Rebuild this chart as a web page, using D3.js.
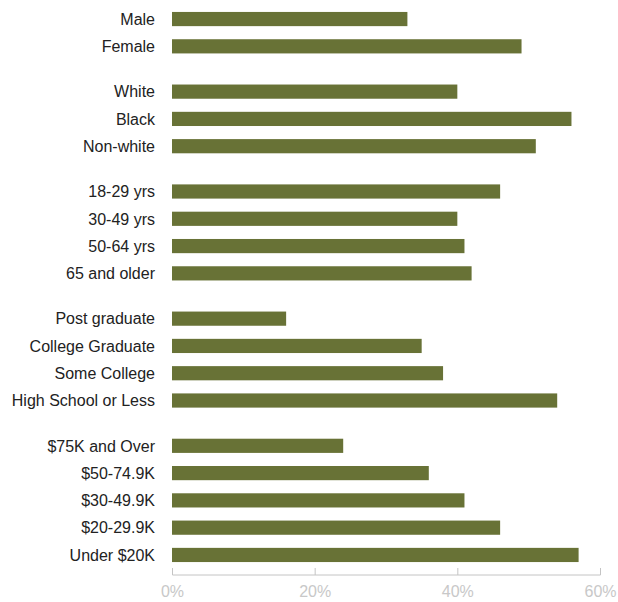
<!DOCTYPE html>
<html>
<head>
<meta charset="utf-8">
<script src="https://cdn.jsdelivr.net/npm/d3@7"></script>
<style>
  body { margin: 0; background: #fff; }
  text { font-family: "Liberation Sans", Arial, sans-serif; }
</style>
</head>
<body>
<div id="chart"></div>
<script>
// categories in groups, top to bottom
const groups = [
    ["Male", "Female"],
    ["White", "Black", "Non-white"],
    ["18-29 yrs", "30-49 yrs", "50-64 yrs", "65 and older"],
    ["Post graduate", "College Graduate", "Some College", "High School or Less"],
    ["$75K and Over", "$50-74.9K", "$30-49.9K", "$20-29.9K", "Under $20K"]
];
const values = [
    [33, 49],
    [40, 56, 51],
    [46, 40, 41, 42],
    [16, 35, 38, 54],
    [24, 36, 41, 46, 57]
];
const xTicks = [0, 20, 40, 60];

const W = 618, H = 602;
const margin = { top: 5, right: 18, bottom: 27, left: 172 };
const width = W - margin.left - margin.right;
const height = H - margin.top - margin.bottom;

// flatten; each row gets a slot position, groups separated by a wider gap
const groupGap = 1.66;
const rows = [];
let pos = 0;
groups.forEach((g, gi) => {
    if (gi > 0) pos += groupGap - 1;
    g.forEach((name, i) => {
        rows.push({ name: name, value: values[gi][i], pos: pos });
        pos += 1;
    });
});

const svg = d3.select("#chart")
    .append("svg")
    .attr("width", W)
    .attr("height", H)
    .append("g")
    .attr("transform", `translate(${margin.left}, ${margin.top})`);

const xScale = d3.scaleLinear().domain([0, 60]).range([0, width]);
const yScale = d3.scaleLinear().domain([0, pos]).range([0.4, 563.6]);
const step = yScale(1) - yScale(0);
const barH = step * 0.52;

// bars
svg.append("g")
    .selectAll("rect")
    .data(rows)
    .join("rect")
    .attr("x", xScale(0))
    .attr("y", d => yScale(d.pos + 0.5) - barH / 2)
    .attr("width", d => xScale(d.value) - xScale(0))
    .attr("height", barH)
    .attr("fill", "#687236");

// category labels
svg.append("g")
    .selectAll("text")
    .data(rows)
    .join("text")
    .attr("x", -17)
    .attr("y", d => yScale(d.pos + 0.5))
    .attr("dy", "0.36em")
    .attr("text-anchor", "end")
    .style("font-size", "16px")
    .style("fill", "#222")
    .text(d => d.name);

// x axis
const xAxis = svg.append("g")
    .attr("transform", `translate(0, ${height})`)
    .call(d3.axisBottom(xScale).tickValues(xTicks).tickSize(-7).tickPadding(11).tickFormat(d => d + "%"));
xAxis.select(".domain").attr("stroke", "#c4c4c4").attr("d", `M0.5,0H${width + 0.5}`);
xAxis.selectAll(".tick line").attr("stroke", "#c4c4c4");
xAxis.selectAll(".tick text")
    .style("font-size", "16px")
    .style("fill", "#c8c8c8")
    .style("font-family", "'Liberation Sans', Arial, sans-serif");
</script>
</body>
</html>
